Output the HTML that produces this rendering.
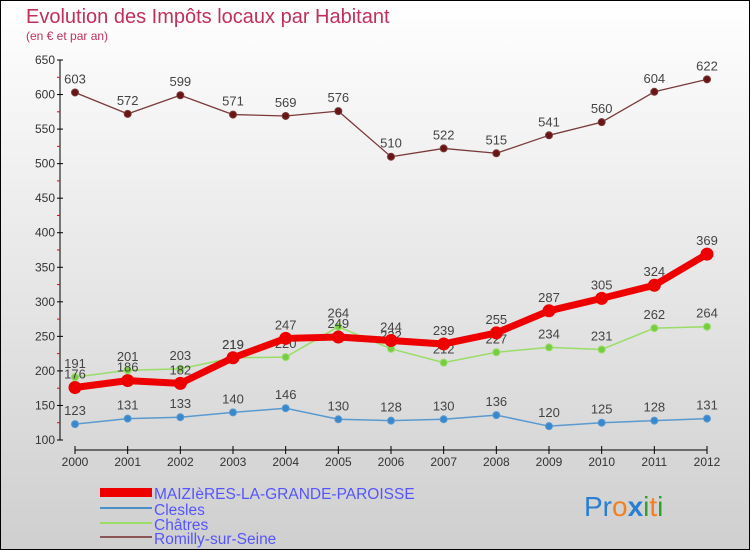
<!DOCTYPE html>
<html><head><meta charset="utf-8"><style>
body{margin:0}
#c{width:750px;height:550px;position:relative;overflow:hidden;font-family:"Liberation Sans",sans-serif;}
svg text{font-family:"Liberation Sans","DejaVu Sans",sans-serif;}
</style></head><body>
<div id="c">
<svg id="s" width="750" height="550" xmlns="http://www.w3.org/2000/svg">
<defs><linearGradient id="bg" x1="0" y1="0" x2="0" y2="1"><stop offset="0" stop-color="#ffffff"/><stop offset="1" stop-color="#cfcfcf"/></linearGradient></defs>
<rect x="0.5" y="0.5" width="749" height="549" fill="url(#bg)" stroke="#000"/>
<text x="26" y="23" font-size="20" fill="#c0305a">Evolution des Impôts locaux par Habitant</text>
<text x="26" y="40" font-size="12" fill="#c0305a">(en € et par an)</text>
<g id="axes"></g><g id="series"></g>
<g>
<rect x="100" y="488" width="52" height="9" fill="#ee0000"/>
<text x="154" y="499" font-size="15.5" fill="#5555ff">MAIZIèRES-LA-GRANDE-PAROISSE</text>
<rect x="100" y="507" width="52" height="2" fill="#4a90c8"/>
<text x="154" y="515" font-size="15.5" fill="#5555ff">Clesles</text>
<rect x="100" y="522" width="52" height="2" fill="#99dd66"/>
<text x="154" y="530" font-size="15.5" fill="#5555ff">Châtres</text>
<rect x="100" y="536" width="52" height="2" fill="#8b5555"/>
<text x="154" y="544" font-size="15.5" fill="#5555ff">Romilly-sur-Seine</text>
</g>
<text x="584" y="516" font-size="28"><tspan fill="#2a7fd0">Pr</tspan><tspan fill="#f08020">o</tspan><tspan fill="#2a7fd0" font-weight="bold">x</tspan><tspan fill="#30a030">i</tspan><tspan fill="#f08020">t</tspan><tspan fill="#30a030">i</tspan></text>
</svg></div>
<script>
const years=["2000","2001","2002","2003","2004","2005","2006","2007","2008","2009","2010","2011","2012"];
const yTicks=[100,150,200,250,300,350,400,450,500,550,600,650];
const maizieres=[176,186,182,219,247,249,244,239,255,287,305,324,369];
const clesles=[123,131,133,140,146,130,128,130,136,120,125,128,131];
const chatres=[191,201,203,219,220,264,232,212,227,234,231,262,264];
const romilly=[603,572,599,571,569,576,510,522,515,541,560,604,622];
const NS="http://www.w3.org/2000/svg";
const x=i=>75+i*(632/12);
const y=v=>440-(v-100)*(380/550);
function mk(t,a,p){const e=document.createElementNS(NS,t);for(const k in a)e.setAttribute(k,a[k]);p.appendChild(e);return e;}
const ax=document.getElementById('axes');
let e=mk('line',{x1:60,y1:60,x2:60,y2:440,stroke:'#000'},ax);

e=mk('line',{x1:75,y1:450,x2:707,y2:450,stroke:'#000'},ax);

yTicks.forEach(v=>{
 mk('line',{x1:57,y1:y(v),x2:63,y2:y(v),stroke:'#000'},ax);
 if(v<650)mk('line',{x1:57,y1:y(v+25),x2:60,y2:y(v+25),stroke:'#e00'},ax);
 const t=mk('text',{x:55,y:y(v)+4,'font-size':12,fill:'#333','text-anchor':'end'},ax);t.textContent=v;
 
});
years.forEach((yr,i)=>{
 mk('line',{x1:x(i),y1:446,x2:x(i),y2:454,stroke:'#000'},ax);
 const t=mk('text',{x:x(i),y:466,'font-size':12,fill:'#333','text-anchor':'middle'},ax);t.textContent=yr;
 
});
const sg=document.getElementById('series');
function series(name,vals,color,w,r,dot){
 const g=mk('g',{},sg);
 
 const l=mk('polyline',{points:vals.map((v,i)=>x(i)+','+y(v)).join(' '),fill:'none',stroke:color,'stroke-width':w,'stroke-linejoin':'round'},g);
 
 vals.forEach((v,i)=>{
  const c=mk('circle',{cx:x(i),cy:y(v),r:r,fill:dot,stroke:color,'stroke-width':1},g);
  
  const t=mk('text',{x:x(i),y:y(v)-9,'font-size':13,fill:'#444','text-anchor':'middle'},g);t.textContent=v;
  
 });
}
series('romilly',romilly,'#7a3a3a',1.3,3.5,'#6a1515');
series('clesles',clesles,'#5a9ad0',1.5,3.5,'#3a88cc');
series('chatres',chatres,'#99dd66',1.5,3.5,'#77cc44');
series('maizieres',maizieres,'#ee0000',7,6,'#ee0000');
</script>
</body></html>
